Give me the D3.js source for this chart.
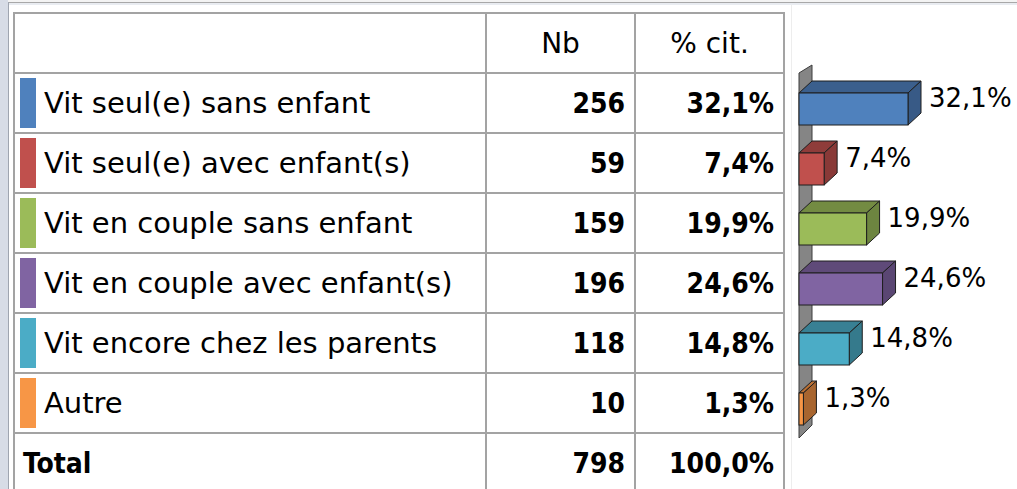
<!DOCTYPE html>
<html><head><meta charset="utf-8">
<script src="https://cdn.jsdelivr.net/npm/d3@7"></script>
<style>body{margin:0;background:#fff;overflow:hidden;} svg{display:block;}</style>
</head><body>
<script>
// ---- data ----
const categories = ["Vit seul(e) sans enfant", "Vit seul(e) avec enfant(s)", "Vit en couple sans enfant",
                    "Vit en couple avec enfant(s)", "Vit encore chez les parents", "Autre"];
const counts = [256, 59, 159, 196, 118, 10];
const percents = [32.1, 7.4, 19.9, 24.6, 14.8, 1.3];
const headers = ["Nb", "% cit."];
const totalLabel = "Total";
const totalCount = 798;
const totalPercent = 100.0;

// ---- styles ----
const frontColors = ["#4F81BD", "#C0504D", "#9BBB59", "#8064A2", "#4BACC6", "#F79646"];
const topColors   = ["#3B5F8D", "#8F3C3A", "#738B42", "#5F4A79", "#388094", "#B86F34"];
const sideColors  = ["#385A86", "#893937", "#6D8540", "#5A4673", "#357A8C", "#A8652F"];
const gridColor = "#A3A3A3";
const regFont = "'DejaVu Sans', sans-serif";
const boldFont = "'DejaVu Sans Condensed', 'DejaVu Sans', sans-serif";

const W = 1017, H = 489;
const svg = d3.select("body").append("svg").attr("width", W).attr("height", H);

// window frame
svg.append("rect").attr("x", 0).attr("y", 0).attr("width", W).attr("height", 5).attr("fill", "#E9ECF1");
svg.append("rect").attr("x", 0).attr("y", 0).attr("width", W).attr("height", 2).attr("fill", "#F3F3F3");
svg.append("line").attr("x1", 0).attr("x2", W).attr("y1", 2.5).attr("y2", 2.5).attr("stroke", "#A8A8A8");
svg.append("rect").attr("x", 0).attr("y", 0).attr("width", 8).attr("height", H).attr("fill", "#D7DCE6");
svg.append("line").attr("x1", 8.5).attr("x2", 8.5).attr("y1", 2).attr("y2", H).attr("stroke", "#9FA5B0");
svg.append("line").attr("x1", 791.5).attr("x2", 791.5).attr("y1", 5).attr("y2", H).attr("stroke", "#EDEDED");

// ---- table layout ----
const colX = [14, 486, 635, 784];
const headerTop = 13;
const rowY = d3.scaleBand().domain(categories).range([73, 433]);
const rowH = rowY.step();
const locale = d3.formatLocale({decimal: ",", thousands: " ", grouping: [3], currency: ["", "€"]});
const fmtPct = v => locale.format(".1f")(v) + "%";

const g = svg.append("g");
// horizontal lines
const hLines = [headerTop].concat(categories.map(c => rowY(c))).concat([rowY.range()[1]]);
g.selectAll("line.h").data(hLines).join("line").attr("class", "h")
  .attr("x1", colX[0]).attr("x2", colX[3]).attr("y1", d => d).attr("y2", d => d)
  .attr("stroke", gridColor).attr("stroke-width", 2);
g.selectAll("line.v").data(colX).join("line").attr("class", "v")
  .attr("x1", d => d).attr("x2", d => d).attr("y1", headerTop - 1).attr("y2", H)
  .attr("stroke", gridColor).attr("stroke-width", 2);

// headers
g.selectAll("text.hd").data(headers).join("text").attr("class", "hd")
  .attr("x", (d, i) => (colX[i + 1] + colX[i + 2]) / 2).attr("y", headerTop + 40)
  .attr("text-anchor", "middle").attr("font-family", regFont).attr("font-size", 28).text(d => d);

// swatches
g.selectAll("rect.sw").data(categories).join("rect").attr("class", "sw")
  .attr("x", 20).attr("y", d => rowY(d) + 5).attr("width", 16).attr("height", rowH - 10)
  .attr("fill", (d, i) => frontColors[i]);
// category labels
g.selectAll("text.cat").data(categories).join("text").attr("class", "cat")
  .attr("x", 44).attr("y", d => rowY(d) + 40)
  .attr("font-family", regFont).attr("font-size", 29).text(d => d);
// counts
g.selectAll("text.nb").data(counts).join("text").attr("class", "nb")
  .attr("x", colX[2] - 10).attr("y", (d, i) => rowY(categories[i]) + 40)
  .attr("text-anchor", "end").attr("font-family", boldFont).attr("font-weight", "bold")
  .attr("font-size", 28).text(d => d);
g.selectAll("text.pc").data(percents).join("text").attr("class", "pc")
  .attr("x", colX[3] - 10).attr("y", (d, i) => rowY(categories[i]) + 40)
  .attr("text-anchor", "end").attr("font-family", boldFont).attr("font-weight", "bold")
  .attr("font-size", 28).text(d => fmtPct(d));
// total row
const totY = rowY.range()[1] + 40;
g.append("text").attr("x", 23).attr("y", totY).attr("font-family", boldFont).attr("font-weight", "bold")
  .attr("font-size", 28).text(totalLabel);
g.append("text").attr("x", colX[2] - 10).attr("y", totY).attr("text-anchor", "end")
  .attr("font-family", boldFont).attr("font-weight", "bold").attr("font-size", 28).text(totalCount);
g.append("text").attr("x", colX[3] - 10).attr("y", totY).attr("text-anchor", "end")
  .attr("font-family", boldFont).attr("font-weight", "bold").attr("font-size", 28).text(fmtPct(totalPercent));

// ---- 3D bar chart ----
const x = d3.scaleLinear().domain([0, d3.max(percents)]).range([799, 908]);
const dx = 13, dy = -12;
const barOff = 20, barH = 32;
const cg = svg.append("g");
const x0 = x(0);
// wall
const wTop = rowY.range()[0], wBot = rowY.range()[1] + 5;
cg.append("polygon")
  .attr("points", [[x0, wTop], [x0 + dx, wTop - 8], [x0 + dx, wBot + dy - 1], [x0, wBot]].map(p => p.join(",")).join(" "))
  .attr("fill", "#858585").attr("stroke", "#3C3C3C").attr("stroke-width", 1);

const bars = cg.selectAll("g.bar").data(percents).join("g").attr("class", "bar");
bars.each(function (v, i) {
  const sel = d3.select(this);
  const y0 = rowY(categories[i]) + barOff;
  const x1 = x(v);
  const pts = a => a.map(p => p.join(",")).join(" ");
  sel.append("polygon").attr("points", pts([[x0, y0], [x0 + dx, y0 + dy], [x1 + dx, y0 + dy], [x1, y0]]))
    .attr("fill", topColors[i]).attr("stroke", "#1E1E1E").attr("stroke-width", 1).attr("stroke-linejoin", "round");
  sel.append("polygon").attr("points", pts([[x1, y0], [x1 + dx, y0 + dy], [x1 + dx, y0 + barH + dy], [x1, y0 + barH]]))
    .attr("fill", sideColors[i]).attr("stroke", "#1E1E1E").attr("stroke-width", 1).attr("stroke-linejoin", "round");
  sel.append("rect").attr("x", x0).attr("y", y0).attr("width", x1 - x0).attr("height", barH)
    .attr("fill", frontColors[i]).attr("stroke", "#1E1E1E").attr("stroke-width", 1);
  sel.append("text").attr("x", x1 + dx + 8).attr("y", rowY(categories[i]) + 34)
    .attr("font-family", regFont).attr("font-size", 26).text(fmtPct(v));
});
</script>
</body></html>
